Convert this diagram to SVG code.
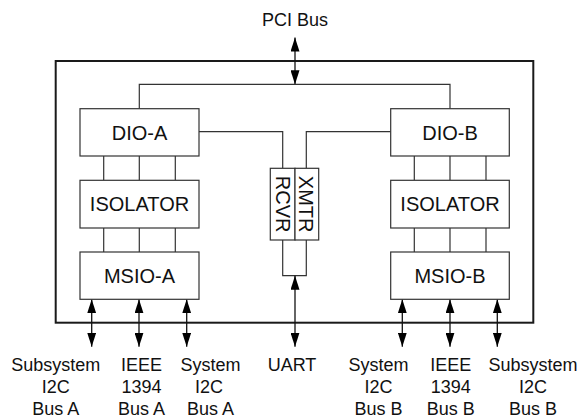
<svg xmlns="http://www.w3.org/2000/svg" width="579" height="418" viewBox="0 0 579 418">
  <style>
    .frame { fill: none; stroke: #1a1a1a; stroke-width: 2; }
    .box { fill: #fff; stroke: #333; stroke-width: 1.2; }
    .wire { fill: none; stroke: #333; stroke-width: 1.2; }
    .bus { fill: none; stroke: #111; stroke-width: 1.3; }
    .lbl { font-family: "Liberation Sans", Arial, Helvetica, sans-serif; font-size: 20px; fill: #111; text-anchor: middle; }
    .io { font-family: "Liberation Sans", Arial, Helvetica, sans-serif; font-size: 18px; fill: #111; text-anchor: middle; }
  </style>
  <defs>
    <marker id="head" markerUnits="userSpaceOnUse" markerWidth="14" markerHeight="9" refX="14" refY="4.5" orient="auto-start-reverse" viewBox="0 0 14 9">
      <path d="M0,0 L14,4.5 L0,9 z" fill="#000"/>
    </marker>
  </defs>
  <rect width="579" height="418" fill="#fff"/>

  <!-- enclosure -->
  <rect id="enclosure" class="frame" x="55.7" y="61" width="477.6" height="261.7"/>

  <g id="connectors">
    <!-- PCI bus -->
    <line class="bus" x1="295" y1="37.5" x2="295" y2="84.3" marker-start="url(#head)" marker-end="url(#head)"/>
    <path class="wire" d="M139.3 108.7 V84.3 H450 V108.7"/>
    <!-- A side stack -->
    <path class="wire" d="M103.7 156 V180.3 M139.3 156 V180.3 M175.3 156 V180.3 M103.7 228 V252 M139.3 228 V252 M175.3 228 V252"/>
    <!-- B side stack -->
    <path class="wire" d="M414.3 156 V180.3 M450 156 V180.3 M486 156 V180.3 M414.3 228 V252 M450 228 V252 M486 228 V252"/>
    <!-- DIO to transceiver -->
    <path class="wire" d="M199 131.7 H282.7 V168.3"/>
    <path class="wire" d="M390.7 131.7 H306.3 V168.3"/>
    <path class="wire" d="M282.7 240 V275.7 H306.3 V240"/>
    <!-- UART -->
    <line class="bus" x1="295" y1="275.7" x2="295" y2="346.7" marker-start="url(#head)" marker-end="url(#head)"/>
    <!-- external A buses -->
    <line class="bus" x1="91.7" y1="299.3" x2="91.7" y2="346.7" marker-start="url(#head)" marker-end="url(#head)"/>
    <line class="bus" x1="139" y1="299.3" x2="139" y2="346.7" marker-start="url(#head)" marker-end="url(#head)"/>
    <line class="bus" x1="186.7" y1="299.3" x2="186.7" y2="346.7" marker-start="url(#head)" marker-end="url(#head)"/>
    <!-- external B buses -->
    <line class="bus" x1="402.3" y1="299.3" x2="402.3" y2="346.7" marker-start="url(#head)" marker-end="url(#head)"/>
    <line class="bus" x1="450" y1="299.3" x2="450" y2="346.7" marker-start="url(#head)" marker-end="url(#head)"/>
    <line class="bus" x1="497.3" y1="299.3" x2="497.3" y2="346.7" marker-start="url(#head)" marker-end="url(#head)"/>
  </g>

  <g id="dio-a">
    <rect class="box" x="80" y="108.7" width="119" height="47.3"/>
    <text class="lbl" x="139.5" y="139.5">DIO-A</text>
  </g>
  <g id="isolator-a">
    <rect class="box" x="80" y="180.3" width="119" height="47.7"/>
    <text class="lbl" x="139.5" y="211.4">ISOLATOR</text>
  </g>
  <g id="msio-a">
    <rect class="box" x="80" y="252" width="119" height="47.3"/>
    <text class="lbl" x="139.5" y="282.9">MSIO-A</text>
  </g>

  <g id="dio-b">
    <rect class="box" x="390.7" y="108.7" width="118.6" height="47.3"/>
    <text class="lbl" x="450" y="139.5">DIO-B</text>
  </g>
  <g id="isolator-b">
    <rect class="box" x="390.7" y="180.3" width="118.6" height="47.7"/>
    <text class="lbl" x="450" y="211.4">ISOLATOR</text>
  </g>
  <g id="msio-b">
    <rect class="box" x="390.7" y="252" width="118.6" height="47.3"/>
    <text class="lbl" x="450" y="282.9">MSIO-B</text>
  </g>

  <g id="rcvr">
    <rect class="box" x="270.3" y="168.3" width="24.7" height="71.7"/>
    <text class="lbl" transform="translate(275.5 204.2) rotate(90)">RCVR</text>
  </g>
  <g id="xmtr">
    <rect class="box" x="295" y="168.3" width="23.7" height="71.7"/>
    <text class="lbl" transform="translate(298.8 204.2) rotate(90)">XMTR</text>
  </g>

  <!-- bus labels -->
  <text class="io" x="295" y="25.5">PCI Bus</text>
  <text class="io" x="292" y="371">UART</text>
  <text class="io" y="371"><tspan x="55.8">Subsystem</tspan><tspan x="55.8" dy="22">I2C</tspan><tspan x="55.8" dy="22">Bus A</tspan></text>
  <text class="io" y="371"><tspan x="141.5">IEEE</tspan><tspan x="141.5" dy="22">1394</tspan><tspan x="141.5" dy="22">Bus A</tspan></text>
  <text class="io" y="371"><tspan x="210.5">System</tspan><tspan x="209" dy="22">I2C</tspan><tspan x="210.5" dy="22">Bus A</tspan></text>
  <text class="io" y="371"><tspan x="378.5">System</tspan><tspan x="378.5" dy="22">I2C</tspan><tspan x="378.5" dy="22">Bus B</tspan></text>
  <text class="io" y="371"><tspan x="450.8">IEEE</tspan><tspan x="450.8" dy="22">1394</tspan><tspan x="450.8" dy="22">Bus B</tspan></text>
  <text class="io" y="371"><tspan x="533">Subsystem</tspan><tspan x="533" dy="22">I2C</tspan><tspan x="533" dy="22">Bus B</tspan></text>
</svg>
